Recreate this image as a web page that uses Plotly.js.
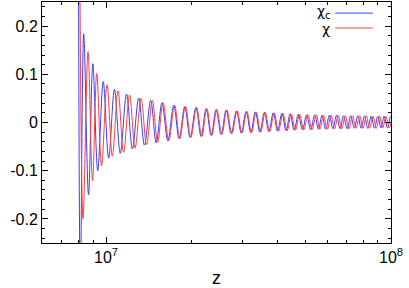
<!DOCTYPE html>
<html>
<head>
<meta charset="utf-8">
<script src="https://cdn.plot.ly/plotly-3.0.1.min.js"></script>
<style>html,body{margin:0;padding:0;background:#fff;}#chart{width:409px;height:288px;}</style>
</head>
<body>
<div id="chart"></div>
<script>
// Extrema of the oscillating curves; z in units of 1e6
var zChiC = [7.993, 8.124, 8.350, 8.680, 8.987, 9.351, 9.776, 10.213, 10.703, 11.217, 11.803, 12.370, 13.017, 13.642, 14.344, 14.996, 15.716, 16.471, 17.290, 18.047, 18.884, 19.726, 20.674, 21.562, 22.452, 23.378, 24.343, 25.348, 26.394, 27.483, 28.687, 29.823, 31.028, 32.204, 33.425, 34.664, 35.949, 37.252, 38.632, 39.967, 41.415, 42.846, 44.255, 45.747, 47.289, 48.884, 50.573, 52.236, 53.997, 55.637, 57.281, 58.974, 60.765, 62.510, 64.409, 66.258, 68.105, 70.174, 72.248, 74.323, 76.457, 78.588, 80.714, 82.897, 85.208, 87.513, 89.881, 92.237, 94.657, 97.217, 99.846, 102.55];
var chiC = [0.5, -0.34, 0.184, -0.150, 0.122, -0.100, 0.085, -0.074, 0.069, -0.064, 0.059, -0.055, 0.051, -0.047, 0.046, -0.042, 0.041, -0.038, 0.036, -0.034, 0.033, -0.031, 0.031, -0.029, 0.029, -0.027, 0.027, -0.025, 0.026, -0.023, 0.024, -0.022, 0.023, -0.021, 0.022, -0.020, 0.021, -0.019, 0.020, -0.018, 0.019, -0.017, 0.018, -0.016, 0.017, -0.015, 0.016, -0.015, 0.016, -0.014, 0.015, -0.014, 0.015, -0.013, 0.015, -0.013, 0.014, -0.013, 0.014, -0.012, 0.014, -0.012, 0.014, -0.012, 0.013, -0.012, 0.013, -0.011, 0.013, -0.011, 0.013, -0.011];

var zChi = [8.058, 8.303, 8.645, 8.966, 9.275, 9.643, 10.081, 10.523, 11.019, 11.520, 12.093, 12.643, 13.272, 13.876, 14.542, 15.167, 15.857, 16.605, 17.403, 18.150, 18.991, 19.838, 20.791, 21.684, 22.579, 23.511, 24.481, 25.492, 26.544, 27.639, 28.850, 29.992, 31.204, 32.413, 33.642, 34.889, 36.182, 37.524, 38.914, 40.292, 41.751, 43.229, 44.650, 46.193, 47.751, 49.401, 51.108, 52.831, 54.656, 56.317, 57.981, 59.742, 61.557, 63.375, 65.301, 67.176, 69.104, 71.204, 73.307, 75.412, 77.578, 79.741, 81.898, 84.113, 86.458, 88.797, 91.199, 93.590, 96.043, 98.641, 101.31];
var chi = [0.5, -0.200, 0.147, -0.121, 0.102, -0.090, 0.078, -0.070, 0.066, -0.062, 0.057, -0.053, 0.050, -0.046, 0.046, -0.041, 0.041, -0.038, 0.036, -0.034, 0.033, -0.031, 0.031, -0.029, 0.029, -0.027, 0.027, -0.025, 0.026, -0.023, 0.024, -0.022, 0.023, -0.021, 0.022, -0.020, 0.021, -0.019, 0.020, -0.018, 0.019, -0.017, 0.018, -0.016, 0.017, -0.015, 0.016, -0.015, 0.016, -0.014, 0.015, -0.014, 0.015, -0.013, 0.015, -0.013, 0.014, -0.013, 0.014, -0.012, 0.014, -0.012, 0.014, -0.012, 0.013, -0.012, 0.013, -0.011, 0.013, -0.011, 0.013];

var seriesNames = ['χ<sub>c</sub>', 'χ'];
var xTickVals = [1e7, 1e8];
var xTickText = ['10<sup>7</sup>', '10<sup>8</sup>'];
var xMinorVals = [6e6, 7e6, 8e6, 9e6, 2e7, 3e7, 4e7, 5e7, 6e7, 7e7, 8e7, 9e7];
var yTickVals = [-0.2, -0.1, 0, 0.1, 0.2];
var yTickText = ['-0.2', '-0.1', '0', '0.1', '0.2'];

var blue = 'rgb(60,60,255)';
var red = 'rgb(255,60,60)';
var font = 'Liberation Sans, Arial, sans-serif';

var traces = [
  {x: zChiC.map(function(v){return v*1e6;}), y: chiC, type: 'scatter', mode: 'lines',
   line: {color: blue, width: 1, shape: 'spline', smoothing: 1}, name: seriesNames[0], showlegend: false},
  {x: zChi.map(function(v){return v*1e6;}), y: chi, type: 'scatter', mode: 'lines',
   line: {color: red, width: 1, shape: 'spline', smoothing: 1}, name: seriesNames[1], showlegend: false}
];

var layout = {
  width: 409, height: 288,
  margin: {l: 42, r: 18, t: 2, b: 45},
  paper_bgcolor: '#fff', plot_bgcolor: '#fff',
  font: {family: font, size: 16, color: '#000'},
  showlegend: false,
  xaxis: {
    type: 'log', range: [Math.log10(5.96e6), 8],
    tickmode: 'array', tickvals: xTickVals, ticktext: xTickText,
    ticks: 'inside', ticklen: 6, tickwidth: 1, tickcolor: '#000',
    minor: {tickmode: 'array', tickvals: xMinorVals, ticks: 'inside', ticklen: 3, tickwidth: 1, tickcolor: '#000'},
    showline: true, linecolor: '#000', linewidth: 1, mirror: 'ticks',
    showgrid: false, zeroline: false,
    tickfont: {size: 16},
    title: {text: 'z', font: {size: 18}, standoff: 6}
  },
  yaxis: {
    range: [-0.25, 0.25],
    tickmode: 'array', tickvals: yTickVals, ticktext: yTickText,
    ticks: 'inside', ticklen: 6, tickwidth: 1, tickcolor: '#000',
    minor: {dtick: 0.02, ticks: 'inside', ticklen: 3, tickwidth: 1, tickcolor: '#000'},
    showline: true, linecolor: '#000', linewidth: 1, mirror: 'ticks',
    showgrid: false, zeroline: false,
    tickfont: {size: 16}
  },
  annotations: [
    {xref: 'paper', yref: 'paper', x: 0.831, y: 0.958, xanchor: 'right', yanchor: 'middle',
     text: seriesNames[0], showarrow: false, font: {family: 'DejaVu Sans, sans-serif', size: 14}},
    {xref: 'paper', yref: 'paper', x: 0.831, y: 0.888, xanchor: 'right', yanchor: 'middle',
     text: seriesNames[1], showarrow: false, font: {family: 'DejaVu Sans, sans-serif', size: 14}}
  ],
  shapes: [
    {type: 'line', xref: 'paper', yref: 'paper', x0: 0.840, x1: 0.948, y0: 0.954, y1: 0.954, line: {color: blue, width: 1}},
    {type: 'line', xref: 'paper', yref: 'paper', x0: 0.840, x1: 0.948, y0: 0.892, y1: 0.892, line: {color: red, width: 1}}
  ]
};

Plotly.newPlot('chart', traces, layout, {staticPlot: true, displayModeBar: false});
</script>
</body>
</html>
